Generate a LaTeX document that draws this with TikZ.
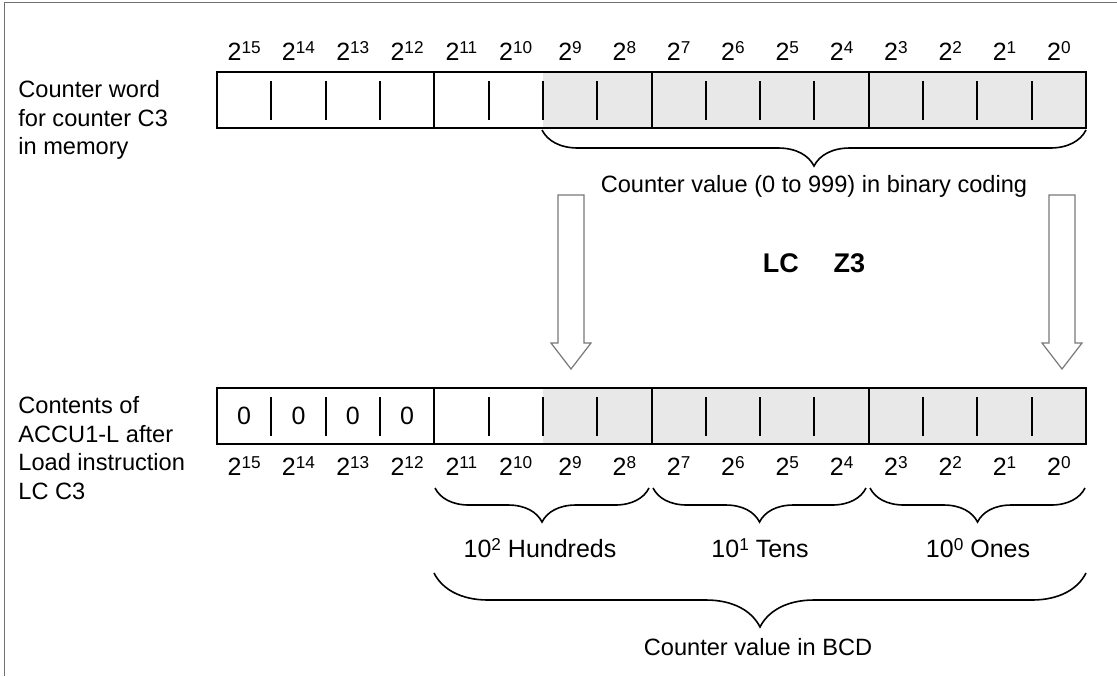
\documentclass[tikz,border=0pt]{standalone}
\usepackage{fontspec}
\setmainfont{Liberation Sans}
\usetikzlibrary{calc,decorations.pathreplacing}
\definecolor{CellGray}{RGB}{232,232,232}
\definecolor{FrameGray}{RGB}{112,112,112}
\definecolor{ArrowGray}{RGB}{120,120,120}
\newcommand{\sups}[1]{\raisebox{3.4pt}{\fontsize{8.6}{10}\selectfont #1}}
\tikzset{
	regbox/.style={line width=1pt},
	regtick/.style={line width=1pt},
	bigtxt/.style={font=\fontsize{12.5}{15}\selectfont},
	bitlbl/.style={bigtxt, anchor=base, inner sep=0pt},
	sidetxt/.style={anchor=north west, align=left, inner sep=0pt},
	blockarrow/.style={draw=ArrowGray, fill=white, line width=0.6pt, line join=miter},
	brc/.style={decorate, line width=0.8pt},
}
\begin{document}
\begin{tikzpicture}[x={(0.5pt,0)}, y={(0,-0.5pt)}, font=\fontsize{11.8}{14.3}\selectfont]
	\useasboundingbox (0,0) rectangle (1117,676);
	% frame
	\draw[FrameGray, line width=0.75pt] (4.3,676) -- (4.3,2.5) -- (1117,2.5);
	% registers: counter word (top) and ACCU1-L (bottom)
	\foreach \ry/\nm in {72/cw, 388/ac} {
		\coordinate (\nm-nw) at (217,\ry);
		\coordinate (\nm-se) at (1086,\ry+56);
		\fill[CellGray] (542.8,\ry) rectangle (\nm-se);
		\foreach \i in {1,2,3,5,6,7,9,10,11,13,14,15}
			\draw[regtick] ({217+54.3125*\i},\ry+9) -- ({217+54.3125*\i},\ry+48);
		\foreach \i in {4,8,12}
			\draw[regtick] ({217+54.3125*\i},\ry) -- ({217+54.3125*\i},\ry+56);
		\draw[regbox] (\nm-nw) rectangle (\nm-se);
	}
	% bit weights
	\foreach \i in {0,...,15} {
		\pgfmathtruncatemacro\e{15-\i}
		\node[bitlbl] (cwb\e) at ({217+54.3125*(\i+0.5)},60) {2\sups{\e}};
		\node[bitlbl] (acb\e) at ({217+54.3125*(\i+0.5)},475) {2\sups{\e}};
	}
	% zeros in the high bits
	\foreach \i in {0,...,3}
		\node[bigtxt] (z\i) at ({217+54.3125*(\i+0.5)},416) {0};
	% side texts
	\node[sidetxt] (cwtxt) at (18,80) {Counter word\\for counter C3\\in memory};
	\node[sidetxt] (actxt) at (18,396) {Contents of\\ACCU1-L after\\Load instruction\\LC C3};
	% load arrows
	\foreach \ax/\nm in {571/ah, 1062/al} {
		\coordinate (\nm-top) at (\ax,195);
		\coordinate (\nm-tip) at (\ax,369);
		\draw[blockarrow] (\ax-13,195) -- (\ax+13,195) -- (\ax+13,343) -- (\ax+20,343)
			-- (\nm-tip) -- (\ax-20,343) -- (\ax-13,343) -- cycle;
	}
	\node[font=\fontsize{13.5}{16}\selectfont\bfseries] (instr) at (814,263) {LC\hspace{17.5pt}Z3};
	% braces
	\coordinate (bin-l) at (542,130);
	\coordinate (bin-r) at (1086,130);
	\draw[brc, decoration={brace, mirror, amplitude=18pt}] (bin-l) -- (bin-r);
	\node (bintxt) at (814,186) {Counter value (0 to 999) in binary coding};
	\foreach \bl/\br/\nm in {435/649/h, 653/866/t, 870/1085/o} {
		\coordinate (\nm-l) at (\bl,488);
		\coordinate (\nm-r) at (\br,488);
		\draw[brc, decoration={brace, mirror, amplitude=17pt}] (\nm-l) -- (\nm-r);
	}
	\node[bigtxt] (hund) at (540,548) {10\sups{2} Hundreds};
	\node[bigtxt] (tens) at (760,548) {10\sups{1} Tens};
	\node[bigtxt] (ones) at (978,548) {10\sups{0} Ones};
	\coordinate (bcd-l) at (434,573);
	\coordinate (bcd-r) at (1086,573);
	\draw[brc, decoration={brace, mirror, amplitude=27pt}] (bcd-l) -- (bcd-r);
	\node (bcdtxt) at (758,647) {Counter value in BCD};
\end{tikzpicture}
\end{document}
